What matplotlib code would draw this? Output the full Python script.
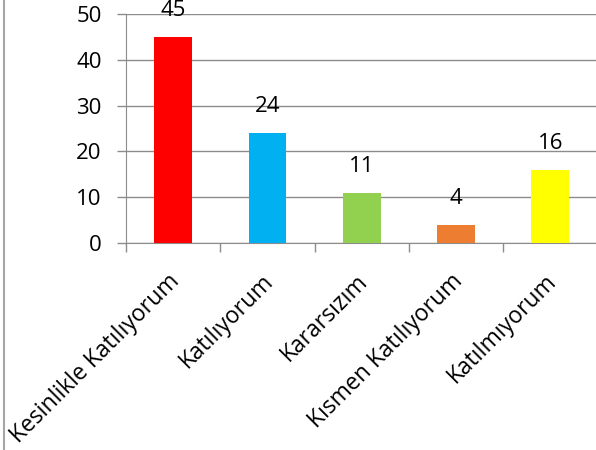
import matplotlib.pyplot as plt
from matplotlib.lines import Line2D

categories = ["Kesinlikle Katılıyorum", "Katılıyorum", "Kararsızım",
              "Kısmen Katılıyorum", "Katılmıyorum"]
values = [45, 24, 11, 4, 16]
colors = ["#ff0000", "#00b0f0", "#92d050", "#ed7d31", "#ffff00"]
yticks = [0, 10, 20, 30, 40, 50]

plt.rcParams['font.family'] = ['Open Sans', 'DejaVu Sans']
grey = "#8c8c8c"

fig = plt.figure(figsize=(5.96, 4.5), dpi=100)
ax = fig.add_axes([126 / 596, 207 / 450, 471.5 / 596, 229 / 450])

x = range(len(categories))
ax.bar(x, values, width=0.4, color=colors, zorder=3)
for xi, v in zip(x, values):
    ax.annotate(str(v), (xi, v), xytext=(0, 19), textcoords="offset points",
                ha="center", va="center", fontsize=16)

ax.set_xlim(-0.5, len(categories) - 0.5)
ax.set_ylim(0, 50)
ax.set_yticks(yticks)
ax.set_yticklabels([str(t) for t in yticks], fontsize=16)
ax.yaxis.grid(True, color=grey, linewidth=1, zorder=0)

ax.set_xticks([i - 0.5 for i in range(len(categories) + 1)])
ax.set_xticklabels([])
ax.tick_params(axis="x", length=6.5, color=grey, width=1)
ax.tick_params(axis="y", length=6.5, color=grey, width=1, pad=11)

for xi, name in zip(x, categories):
    ax.annotate(name, (xi, 0), xytext=(2, -25), textcoords="offset points",
                rotation=45, rotation_mode="anchor", ha="right", va="center",
                fontsize=16.5)

for s in ["top", "right"]:
    ax.spines[s].set_visible(False)
for s in ["left", "bottom"]:
    ax.spines[s].set_color(grey)

fig.add_artist(Line2D([4 / 596, 4 / 596], [0, 1], color="#a6a6a6", linewidth=1.5))

fig.savefig("out.png", dpi=100)
